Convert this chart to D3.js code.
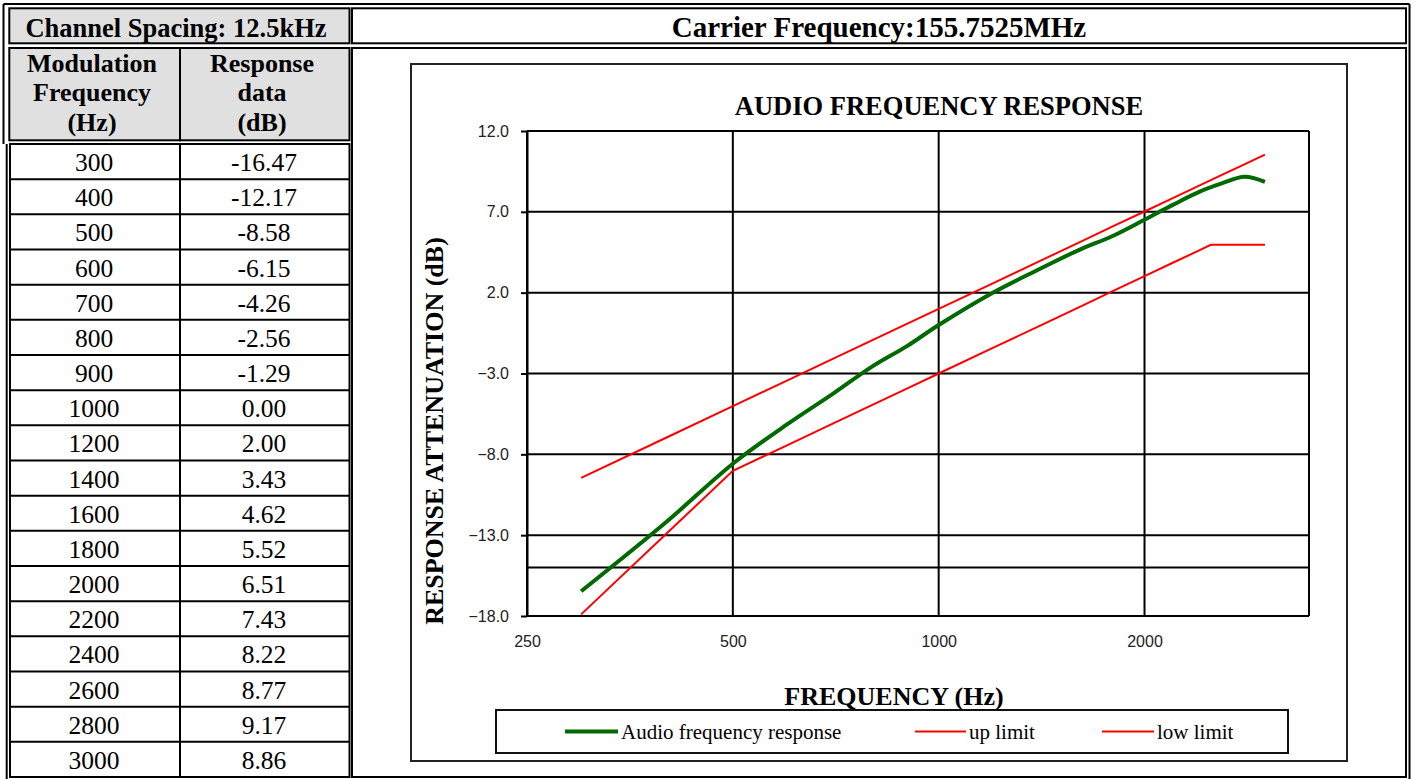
<!DOCTYPE html>
<html><head><meta charset="utf-8">
<script src="https://cdn.jsdelivr.net/npm/d3@7"></script>
<style>body{margin:0;background:#fff}svg{display:block}</style>
</head><body><svg id="c" width="1416" height="779"></svg>
<script>
// ---- data ----
const freqs = [300,400,500,600,700,800,900,1000,1200,1400,1600,1800,2000,2200,2400,2600,2800,3000];
const response = [-16.47,-12.17,-8.58,-6.15,-4.26,-2.56,-1.29,0.00,2.00,3.43,4.62,5.52,6.51,7.43,8.22,8.77,9.17,8.86];
const limitFreqs = [300,400,500,600,700,800,900,1000,1200,1400,1600,1800,2000,2200,2400,2500,2600,2800,3000];
const upLimit = [-9.46,-6.96,-5.02,-3.44,-2.10,-0.94,0.08,1.00,2.58,3.92,5.08,6.11,7.02,7.85,8.60,8.96,9.30,9.94,10.54];
const lowLimit = [-17.9,-12.9,-9.02,-7.44,-6.10,-4.94,-3.92,-3.00,-1.42,-0.08,1.08,2.11,3.02,3.85,4.60,4.96,4.96,4.96,4.96];
const xTicks = [250,500,1000,2000];
const yTicks = [12,7,2,-3,-8,-13,-18];
const yExtraGrid = [-15];
const channelTitle = "Channel Spacing: 12.5kHz";
const carrierTitle = "Carrier Frequency:155.7525MHz";
const colHead1 = ["Modulation","Frequency","(Hz)"];
const colHead2 = ["Response","data","(dB)"];
const chartTitle = "AUDIO FREQUENCY RESPONSE";
const xTitle = "FREQUENCY (Hz)";
const yTitle = "RESPONSE ATTENUATION  (dB)";
const seriesNames = ["Audio frequency response","up limit","low limit"];

const svg = d3.select("#c");
svg.append("rect").attr("width",1416).attr("height",779).attr("fill","#fff");
const serif = "'Liberation Serif','Times New Roman',serif";
const sans = "'Liberation Sans',Arial,sans-serif";

function box(x1,y1,x2,y2,fill,sw,stroke){
  svg.append("rect").attr("x",x1).attr("y",y1).attr("width",x2-x1).attr("height",y2-y1)
    .attr("fill",fill||"none").attr("stroke",stroke||"#000").attr("stroke-width",sw||2);
}
function hline(x1,x2,yy,sw){svg.append("line").attr("x1",x1).attr("x2",x2).attr("y1",yy).attr("y2",yy).attr("stroke","#000").attr("stroke-width",sw||2);}
function vline(xx,y1,y2,sw){svg.append("line").attr("x1",xx).attr("x2",xx).attr("y1",y1).attr("y2",y2).attr("stroke","#000").attr("stroke-width",sw||2);}

// ---- outer double border ----
hline(3.5,1409.5,4);
vline(1409.5,4,782);
vline(3.5,4,144);
vline(6.7,144,782);

// ---- header cells ----
box(9.3,8.3,349.5,43.3,"#e0e0e0");
box(352,8.3,1406,43.3,"#fff");
box(9.3,48,180,140.3,"#e0e0e0");
box(180,48,349.5,140.3,"#e0e0e0");
box(352,48,1406,777,"#fff");

svg.append("text").attr("x",176).attr("y",36.5).attr("text-anchor","middle")
  .attr("font-family",serif).attr("font-weight","bold").attr("font-size",26.5).text(channelTitle);
svg.append("text").attr("x",879).attr("y",37).attr("text-anchor","middle")
  .attr("font-family",serif).attr("font-weight","bold").attr("font-size",29).text(carrierTitle);
colHead1.forEach((t,i)=>svg.append("text").attr("x",92).attr("y",71.5+i*29.8).attr("text-anchor","middle")
  .attr("font-family",serif).attr("font-weight","bold").attr("font-size",26).text(t));
colHead2.forEach((t,i)=>svg.append("text").attr("x",262).attr("y",71.5+i*29.8).attr("text-anchor","middle")
  .attr("font-family",serif).attr("font-weight","bold").attr("font-size",26).text(t));

// ---- data table ----
const rowTop = 144, rowBot = 777;
const rowH = (rowBot-rowTop)/freqs.length;
box(10,rowTop,349.5,rowBot,"#fff");
vline(180,rowTop,rowBot);
freqs.forEach((f,i)=>{
  const yy = rowTop + i*rowH;
  if(i>0) hline(10,349.5,yy);
  svg.append("text").attr("x",94).attr("y",yy+27).attr("text-anchor","middle")
    .attr("font-family",serif).attr("font-size",25.5).text(f);
  svg.append("text").attr("x",264).attr("y",yy+27).attr("text-anchor","middle")
    .attr("font-family",serif).attr("font-size",25.5).text(response[i].toFixed(2));
});

// ---- chart ----
box(411,64,1347,761,"#fff",2,"#222");
const X0=527, X1=1309, Y0=131, Y1=616;
const x = d3.scaleLog().domain([250,3480]).range([X0,X1]);
const y = d3.scaleLinear().domain([-18,12]).range([Y1,Y0]);
const g = svg.append("g");

// gridlines
g.selectAll(".hg").data(yTicks.concat(yExtraGrid)).join("line")
  .attr("x1",X0).attr("x2",X1).attr("y1",d=>y(d)).attr("y2",d=>y(d))
  .attr("stroke","#000").attr("stroke-width",2);
g.selectAll(".vg").data(xTicks.concat([x.domain()[1]])).join("line")
  .attr("x1",d=>x(d)).attr("x2",d=>x(d)).attr("y1",Y0).attr("y2",Y1)
  .attr("stroke","#000").attr("stroke-width",2);

// axes
const ya = g.append("g").attr("transform",`translate(${X0},0)`)
  .call(d3.axisLeft(y).tickValues(yTicks).tickFormat(d3.format(".1f")).tickSize(6).tickSizeOuter(0).tickPadding(12));
ya.select(".domain").attr("stroke","#000").attr("stroke-width",2);
ya.selectAll(".tick line").attr("stroke","#000").attr("stroke-width",2);
ya.selectAll("text").attr("font-family",sans).attr("font-size",16).attr("fill","#222");
const xa = g.append("g").attr("transform",`translate(0,${Y1})`)
  .call(d3.axisBottom(x).tickValues(xTicks).tickFormat(d3.format("d")).tickSize(0).tickPadding(20));
xa.select(".domain").remove();
xa.selectAll("text").attr("font-family",sans).attr("font-size",16).attr("fill","#222");

// series
const lineLin = d3.line().x(d=>x(d[0])).y(d=>y(d[1]));
const lineSmooth = d3.line().x(d=>x(d[0])).y(d=>y(d[1])).curve(d3.curveCatmullRom.alpha(0.5));
g.append("path").datum(limitFreqs.map((f,i)=>[f,upLimit[i]])).attr("d",lineLin)
  .attr("fill","none").attr("stroke","#ff0000").attr("stroke-width",2);
g.append("path").datum(limitFreqs.map((f,i)=>[f,lowLimit[i]])).attr("d",lineLin)
  .attr("fill","none").attr("stroke","#ff0000").attr("stroke-width",2);
g.append("path").datum(freqs.map((f,i)=>[f,response[i]])).attr("d",lineSmooth)
  .attr("fill","none").attr("stroke","#006a00").attr("stroke-width",4).attr("stroke-linejoin","round");

// titles
svg.append("text").attr("x",939).attr("y",115).attr("text-anchor","middle")
  .attr("font-family",serif).attr("font-weight","bold").attr("font-size",26.5).text(chartTitle);
svg.append("text").attr("x",894).attr("y",705).attr("text-anchor","middle")
  .attr("font-family",serif).attr("font-weight","bold").attr("font-size",26).text(xTitle);
svg.append("text").attr("transform","translate(443,431) rotate(-90)").attr("text-anchor","middle")
  .attr("font-family",serif).attr("font-weight","bold").attr("font-size",26).text(yTitle);

// legend
box(496,710,1288,753,"#fff",2,"#111");
const legItems = [
  {name:seriesNames[0], color:"#006a00", w:4, x1:565, x2:618},
  {name:seriesNames[1], color:"#ff0000", w:2, x1:915, x2:966},
  {name:seriesNames[2], color:"#ff0000", w:2, x1:1102, x2:1154}
];
legItems.forEach(it=>{
  svg.append("line").attr("x1",it.x1).attr("x2",it.x2).attr("y1",731.5).attr("y2",731.5)
    .attr("stroke",it.color).attr("stroke-width",it.w);
  svg.append("text").attr("x",it.x2+3).attr("y",739).attr("font-family",serif).attr("font-size",21).text(it.name);
});
</script></body></html>
